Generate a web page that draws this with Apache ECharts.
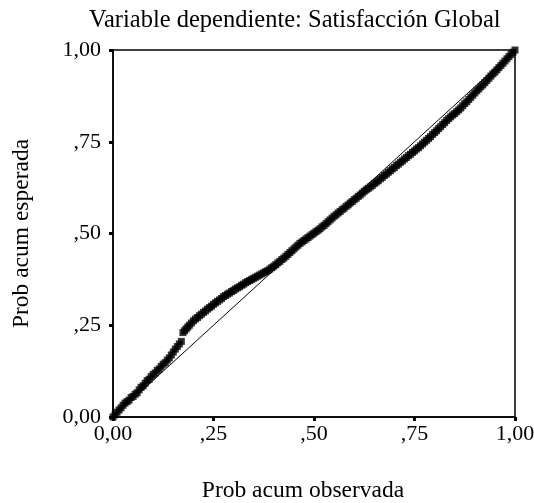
<!DOCTYPE html>
<html>
<head>
<meta charset="utf-8">
<script src="https://cdn.jsdelivr.net/npm/echarts@6/dist/echarts.min.js"></script>
<style>
html,body{margin:0;padding:0;background:#fff;}
#main{width:534px;height:503px;}
</style>
</head>
<body>
<div id="main"></div>
<script>
var titleText = "Variable dependiente: Satisfacción Global";
var xName = "Prob acum observada";
var yName = "Prob acum esperada";
var tickValues = [0, 0.25, 0.5, 0.75, 1];
var tickLabels = ["0,00", ",25", ",50", ",75", "1,00"];

var observed = [
0.000,0.005,0.010,0.015,0.020,0.025,0.030,0.035,0.040,0.045,
0.050,0.055,0.060,0.065,0.070,0.075,0.080,0.085,0.090,0.095,
0.100,0.105,0.110,0.115,0.120,0.125,0.130,0.135,0.140,0.145,
0.150,0.155,0.160,0.165,0.170,0.174,0.178,0.182,0.186,0.190,
0.195,0.200,0.205,0.210,0.215,0.220,0.225,0.230,0.235,0.240,
0.245,0.250,0.255,0.260,0.265,0.270,0.275,0.280,0.285,0.290,
0.295,0.300,0.305,0.310,0.315,0.320,0.325,0.330,0.335,0.340,
0.345,0.350,0.355,0.360,0.365,0.370,0.375,0.380,0.385,0.390,
0.395,0.400,0.405,0.410,0.415,0.420,0.425,0.430,0.435,0.440,
0.445,0.450,0.455,0.460,0.465,0.470,0.475,0.480,0.485,0.490,
0.495,0.500,0.505,0.510,0.515,0.520,0.525,0.530,0.535,0.540,
0.545,0.550,0.555,0.560,0.565,0.570,0.575,0.580,0.585,0.590,
0.595,0.600,0.605,0.610,0.615,0.620,0.625,0.630,0.635,0.640,
0.645,0.650,0.655,0.660,0.665,0.670,0.675,0.680,0.685,0.690,
0.695,0.700,0.705,0.710,0.715,0.720,0.725,0.730,0.735,0.740,
0.745,0.750,0.755,0.760,0.765,0.770,0.775,0.780,0.785,0.790,
0.795,0.800,0.805,0.810,0.815,0.820,0.825,0.830,0.835,0.840,
0.845,0.850,0.855,0.860,0.865,0.870,0.875,0.880,0.885,0.890,
0.895,0.900,0.905,0.910,0.915,0.920,0.925,0.930,0.935,0.940,
0.945,0.950,0.955,0.960,0.965,0.970,0.975,0.980,0.985,0.990,
0.995,1.000
];
var expected = [
0.000,0.006,0.013,0.019,0.025,0.032,0.038,0.042,0.046,0.053,
0.056,0.062,0.066,0.074,0.081,0.085,0.092,0.099,0.103,0.110,
0.116,0.120,0.127,0.131,0.138,0.144,0.148,0.155,0.161,0.169,
0.177,0.185,0.192,0.199,0.206,0.230,0.235,0.240,0.245,0.250,
0.256,0.262,0.267,0.271,0.276,0.280,0.285,0.289,0.294,0.298,
0.302,0.307,0.311,0.315,0.319,0.323,0.328,0.331,0.335,0.338,
0.342,0.345,0.349,0.352,0.355,0.359,0.362,0.366,0.369,0.372,
0.375,0.378,0.381,0.384,0.387,0.390,0.393,0.396,0.399,0.403,
0.407,0.411,0.415,0.420,0.424,0.429,0.433,0.438,0.443,0.448,
0.453,0.458,0.463,0.468,0.473,0.477,0.481,0.485,0.489,0.493,
0.497,0.501,0.505,0.509,0.513,0.518,0.522,0.527,0.532,0.537,
0.542,0.547,0.551,0.556,0.560,0.565,0.569,0.574,0.578,0.583,
0.587,0.592,0.596,0.601,0.605,0.610,0.615,0.619,0.623,0.627,
0.631,0.636,0.640,0.644,0.649,0.653,0.658,0.662,0.667,0.671,
0.676,0.680,0.685,0.689,0.694,0.698,0.703,0.707,0.712,0.716,
0.721,0.725,0.730,0.734,0.739,0.744,0.749,0.754,0.759,0.764,
0.770,0.775,0.780,0.786,0.791,0.797,0.802,0.808,0.813,0.818,
0.823,0.827,0.832,0.837,0.842,0.848,0.854,0.859,0.865,0.871,
0.877,0.883,0.889,0.894,0.900,0.905,0.911,0.917,0.923,0.929,
0.935,0.940,0.946,0.952,0.958,0.964,0.970,0.976,0.982,0.988,
0.994,1.000
];
var refLine = [[0, 0], [1, 1]];

var points = observed.map(function (v, i) { return [v, expected[i]]; });
function fmt(v) {
  var i = tickValues.indexOf(Math.round(v * 100) / 100);
  return i >= 0 ? tickLabels[i] : '';
}
var font = "Liberation Serif";
var chart = echarts.init(document.getElementById('main'), null, {renderer: 'canvas'});
chart.setOption({
  animation: false,
  backgroundColor: '#fff',
  title: {
    text: titleText,
    left: 84, top: 3,
    textStyle: {fontFamily: font, fontSize: 24.5, fontWeight: 'normal', color: '#000'}
  },
  grid: {left: 113, right: 19, top: 50, bottom: 86, outerBoundsMode: 'none', containLabel: false,
         show: true, borderColor: '#000', borderWidth: 1.5},
  xAxis: {
    type: 'value', min: 0, max: 1, interval: 0.25,
    name: xName, nameLocation: 'middle', nameGap: 62,
    nameTextStyle: {fontFamily: font, fontSize: 23.5, color: '#000', padding: [0, 22, 0, 0]},
    axisLine: {show: true, lineStyle: {color: '#000', width: 1.5}},
    axisTick: {show: true, inside: false, length: 4, lineStyle: {color: '#000', width: 3}},
    axisLabel: {formatter: fmt, fontFamily: font, fontSize: 22, color: '#000', margin: 6},
    splitLine: {show: false}
  },
  yAxis: {
    type: 'value', min: 0, max: 1, interval: 0.25,
    name: yName, nameLocation: 'middle', nameGap: 79,
    nameTextStyle: {fontFamily: font, fontSize: 23.5, color: '#000'},
    axisLine: {show: true, lineStyle: {color: '#000', width: 1.5}},
    axisTick: {show: true, inside: false, length: 4, lineStyle: {color: '#000', width: 3}},
    axisLabel: {formatter: fmt, fontFamily: font, fontSize: 22, color: '#000', margin: 12},
    splitLine: {show: false}
  },
  series: [
    {type: 'line', data: refLine, symbol: 'none', lineStyle: {color: '#000', width: 1}, z: 1, silent: true},
    {type: 'scatter', data: points, symbol: 'rect', symbolSize: 7, itemStyle: {color: '#000'}, z: 2}
  ]
});
</script>
</body>
</html>
